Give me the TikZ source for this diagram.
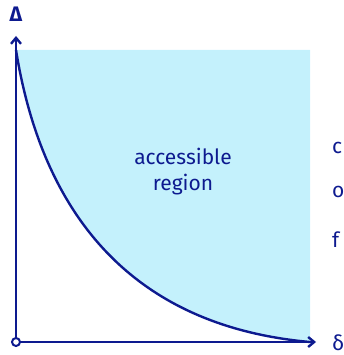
\documentclass[tikz,border=0pt]{standalone}
\usepackage{fontspec}
\setmainfont{Fira Sans}
\usepackage{tikz}
\usetikzlibrary{arrows.meta,positioning}
\definecolor{ink}{HTML}{0D1A8F}
\definecolor{region}{HTML}{C4F1FC}

\begin{document}
\begin{tikzpicture}[x=1pt,y=-1pt,
    axis/.style={draw=ink, line width=2.4pt, -{Straight Barb[length=6pt,width=10pt]}},
    label/.style={text=ink, font=\fontsize{21}{26}\selectfont\mdseries, inner sep=1pt},
    side/.style={label, anchor=west}
]
\useasboundingbox (0,0) rectangle (344,355);

\coordinate (O) at (16,342);
\coordinate (ytop) at (16,36);
\coordinate (xend) at (316,342);
\coordinate (start) at (16,50);
\coordinate (stop) at (310,342);

% accessible region above the curve
\fill[region] (start) -- (310,50) -- (stop) .. controls (120,325) and (40,200) .. (start) -- cycle;

% curve
\draw[ink, line width=2.4pt] (start) .. controls (40,200) and (120,325) .. (stop);

% axes
\draw[axis] (O) -- (ytop);
\draw[axis] (O) -- (xend);
\draw[ink, line width=2pt, fill=white] (O) circle (4);

\node[label, font=\fontsize{21}{26}\selectfont\bfseries] (Delta) at (16,14) {Δ};
\node[label, anchor=west] (delta) at (331,343) {δ};
\node[label, align=center] (acc) at (183,172) {accessible\\region};

\node[side] (c1) at (331,148) {c};
\node[side] (c2) at (331,192) {o};
\node[side] (c3) at (331,240) {f};

\end{tikzpicture}
\end{document}
